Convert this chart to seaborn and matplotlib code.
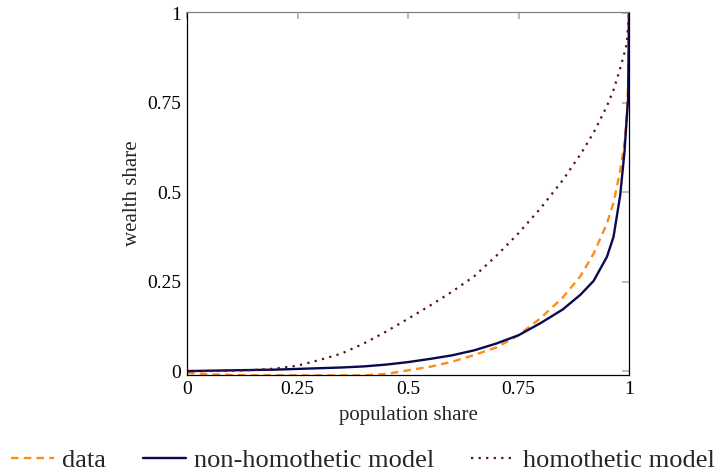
import matplotlib
matplotlib.use("Agg")
import matplotlib.pyplot as plt
import seaborn as sns
import pandas as pd

population_share = [0, .05, .1, .15, .2, .25, .3, .35, .4, .45, .5, .55, .6, .65, .7,
                    .75, .8, .85, .89, .92, .95, .965, .98, .99, .995, .998, 1.0]
data_share = [-0.005, -0.009, -0.011, -0.012, -0.012, -0.012, -0.012, -0.012, -0.012,
              -0.008, 0.002, 0.012, 0.026, 0.045, 0.066, 0.1, 0.148, 0.205, 0.265,
              0.328, 0.412, 0.47, 0.56, 0.64, 0.71, 0.8, 1.0]
nonhomothetic_share = [0.0, 0.001, 0.002, 0.003, 0.004, 0.006, 0.008, 0.01, 0.013, 0.018,
                       0.025, 0.034, 0.044, 0.058, 0.077, 0.1, 0.134, 0.172, 0.213, 0.252,
                       0.319, 0.375, 0.49, 0.615, 0.71, 0.76, 1.0]
homothetic_share = [0.0, 0.0, 0.001, 0.003, 0.007, 0.015, 0.031, 0.049, 0.077, 0.11,
                    0.146, 0.183, 0.222, 0.265, 0.322, 0.385, 0.455, 0.533, 0.605, 0.666,
                    0.74, 0.785, 0.845, 0.89, 0.915, 0.97, 1.0]
series_labels = ["data", "non-homothetic model", "homothetic model"]
tick_values = [0, 0.25, 0.5, 0.75, 1]
tick_labels = ["0", "0.25", "0.5", "0.75", "1"]

sns.set_theme(style="white")
plt.rcParams["font.family"] = ["Liberation Serif", "DejaVu Serif"]

fig = plt.figure(figsize=(7.21, 4.73), dpi=100)
ax = fig.add_axes([187 / 721, 1 - 375 / 473, (629 - 187) / 721, (375 - 12) / 473])

df = pd.DataFrame({"x": population_share, "data": data_share,
                   "nonhom": nonhomothetic_share, "hom": homothetic_share})

sns.lineplot(data=df, x="x", y="data", ax=ax, color="#ff8c1a", lw=1.7,
             linestyle=(0, (3.2, 2.2)), errorbar=None, label=series_labels[0])
sns.lineplot(data=df, x="x", y="nonhom", ax=ax, color="#0a0a4f", lw=1.7,
             errorbar=None, label=series_labels[1])
sns.lineplot(data=df, x="x", y="hom", ax=ax, color="#5e1111", lw=1.6,
             linestyle=(0, (1, 2.4)), errorbar=None, label=series_labels[2])

ax.set_xlim(0, 1)
ax.set_ylim(-0.011, 1.003)
ax.set_xticks(tick_values)
ax.set_xticklabels(tick_labels)
ax.set_yticks(tick_values)
ax.set_yticklabels(tick_labels)
ax.tick_params(direction="in", length=5, width=1.2, color="#b0b0b0",
               top=True, right=True, labelsize=14, pad=4, labelcolor="black")

for s in ["left", "bottom", "right"]:
    ax.spines[s].set_color("black")
    ax.spines[s].set_linewidth(0.9)
ax.spines["top"].set_color("#808080")
ax.spines["top"].set_linewidth(0.9)

ax.set_xlabel("population share", fontsize=15, labelpad=6)
ax.set_ylabel("wealth share", fontsize=15, labelpad=4)

handles, labels = ax.get_legend_handles_labels()
ax.get_legend().remove()
fig.legend(handles, labels, loc="center", bbox_to_anchor=(0.503, 1 - 460 / 473),
           ncol=3, frameon=False, fontsize=19, handlelength=1.65,
           handletextpad=0.3, columnspacing=1.4, borderaxespad=0)

fig.savefig("out.png", dpi=100)
